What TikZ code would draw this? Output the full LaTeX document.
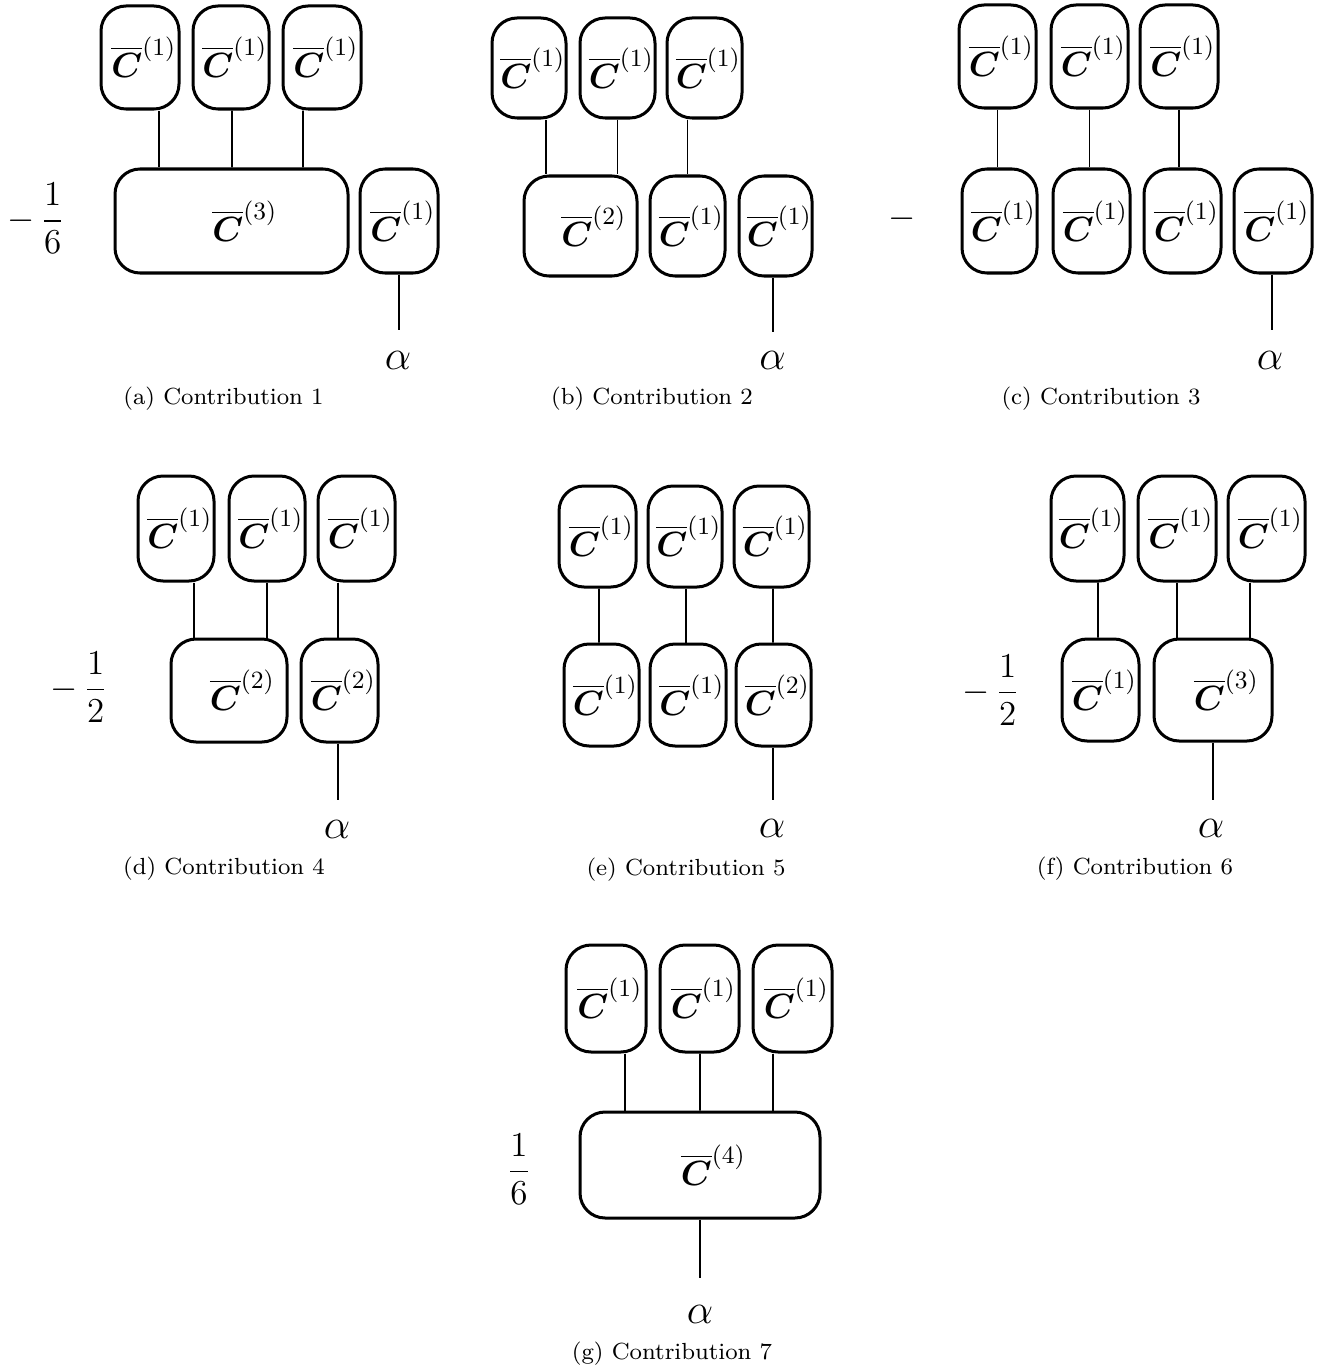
\documentclass[tikz,border=0pt]{standalone}
\usepackage{amsmath,bm}
\newlength\pu \setlength\pu{0.343pt}
\newcommand\Cb[1]{\hspace*{2.7pt}$\overline{\bm{C}}^{\text{\fontsize{8.5}{9}\selectfont(#1)}}$}
\newcommand\Cbw[1]{\hspace*{6.5pt}\Cb{#1}}
\tikzset{
  bx/.style n args={2}{draw, line width=1.03pt, rounded corners=8.6pt, inner sep=0pt,
    minimum width=#1*\pu, minimum height=#2*\pu, font=\fontsize{12}{14}\selectfont},
  ln/.style={line width=0.57pt},
  al/.style={anchor=base, font=\fontsize{14.4}{17}\selectfont, inner sep=0pt},
  captxt/.style={anchor=base, font=\fontsize{8}{10}\selectfont, inner sep=0pt},
  co/.style={font=\fontsize{12}{14}\selectfont, inner sep=0pt},
}
\begin{document}
\begin{tikzpicture}[x=0.343pt, y=-0.343pt]
\useasboundingbox (0,0) rectangle (1340,1372);

% ---------------- (a)
\node[bx={78}{103}] (a1) at (140,57.5) {\Cb1};
\node[bx={76}{103}] (a2) at (231,57.5) {\Cb1};
\node[bx={78}{103}] (a3) at (322,57.5) {\Cb1};
\node[bx={233}{104}] (aC) at (231.5,221) {\Cbw3};
\node[bx={78}{104}] (aR) at (399,221) {\Cb1};
\coordinate (aend) at (399,330);
\node[al] (aal) at (398,369) {$\alpha$};
\node[co, anchor=west] (afr) at (7,218.5) {$-\,\dfrac{1}{6}$};
\node[captxt] (acap) at (223.5,404) {(a) Contribution 1};
\draw[ln] ([xshift=19*\pu]a1.south) -- ([xshift=-72.5*\pu]aC.north);
\draw[ln] ([xshift=1*\pu]a2.south) -- ([xshift=0.5*\pu]aC.north);
\draw[ln] ([xshift=-19*\pu]a3.south) -- ([xshift=71.5*\pu]aC.north);
\draw[ln] (aR.south) -- (aend);

% ---------------- (b)
\node[bx={74}{100}] (b1) at (529,68) {\Cb1};
\node[bx={75}{100}] (b2) at (617.5,68) {\Cb1};
\node[bx={75}{100}] (b3) at (704.5,68) {\Cb1};
\node[bx={113}{100}] (bC) at (580.5,226) {\Cbw2};
\node[bx={75}{100}] (bB2) at (687.5,226) {\Cb1};
\node[bx={73}{100}] (bB3) at (775.5,226) {\Cb1};
\coordinate (bend) at (773,332);
\node[al] (bal) at (772.5,369) {$\alpha$};
\node[captxt] (bcap) at (652,404) {(b) Contribution 2};
\draw[ln] ([xshift=17*\pu]b1.south) -- ([xshift=-34.5*\pu]bC.north);
\draw[ln] (b2.south) -- ([xshift=37*\pu]bC.north);
\draw[ln] ([xshift=-17*\pu]b3.south) -- (bB2.north);
\draw[ln] ([xshift=-2.5*\pu]bB3.south) -- (bend);

% ---------------- (c)
\node[bx={77}{103}] (c1) at (997.5,56.5) {\Cb1};
\node[bx={77}{103}] (c2) at (1089.5,56.5) {\Cb1};
\node[bx={78}{103}] (c3) at (1179,56.5) {\Cb1};
\node[bx={75}{104}] (cB1) at (999.5,221) {\Cb1};
\node[bx={77}{104}] (cB2) at (1091.5,221) {\Cb1};
\node[bx={77}{104}] (cB3) at (1182.5,221) {\Cb1};
\node[bx={78}{104}] (cB4) at (1273,221) {\Cb1};
\coordinate (cend) at (1272,330);
\node[al] (cal) at (1270,369) {$\alpha$};
\node[co] (cmin) at (902,219) {$-$};
\node[captxt] (ccap) at (1101,404) {(c) Contribution 3};
\draw[ln] (c1.south) -- (c1.south |- cB1.north);
\draw[ln] (c2.south) -- (c2.south |- cB2.north);
\draw[ln] (c3.south) -- (c3.south |- cB3.north);
\draw[ln] ([xshift=-1*\pu]cB4.south) -- (cend);

% ---------------- (d)
\node[bx={76}{105}] (d1) at (176,528.5) {\Cb1};
\node[bx={76}{105}] (d2) at (267,528.5) {\Cb1};
\node[bx={77}{105}] (d3) at (356.5,528.5) {\Cb1};
\node[bx={116}{103}] (dC) at (229,690.5) {\Cbw2};
\node[bx={77}{103}] (dB) at (339.5,690.5) {\Cb2};
\coordinate (dend) at (338,800);
\node[al] (dal) at (337,838) {$\alpha$};
\node[co, anchor=west] (dfr) at (50,687) {$-\,\dfrac{1}{2}$};
\node[captxt] (dcap) at (224,874) {(d) Contribution 4};
\draw[ln] ([xshift=18*\pu]d1.south) -- ([xshift=-35*\pu]dC.north);
\draw[ln] (d2.south) -- ([xshift=38*\pu]dC.north);
\draw[ln] ([xshift=-18.5*\pu]d3.south) -- ([xshift=-1.5*\pu]dB.north);
\draw[ln] ([xshift=-1.5*\pu]dB.south) -- (dend);

% ---------------- (e)
\node[bx={77}{101}] (e1) at (597.5,536.5) {\Cb1};
\node[bx={74}{101}] (e2) at (685,536.5) {\Cb1};
\node[bx={75}{101}] (e3) at (771.5,536.5) {\Cb1};
\node[bx={75}{102}] (eB1) at (601.5,695) {\Cb1};
\node[bx={76}{102}] (eB2) at (688,695) {\Cb1};
\node[bx={75}{102}] (eB3) at (773.5,695) {\Cb2};
\coordinate (eend) at (773,800);
\node[al] (eal) at (772,837) {$\alpha$};
\node[captxt] (ecap) at (686,875) {(e) Contribution 5};
\draw[ln] ([xshift=1.5*\pu]e1.south) -- ([xshift=-2.5*\pu]eB1.north);
\draw[ln] ([xshift=1*\pu]e2.south) -- ([xshift=-2*\pu]eB2.north);
\draw[ln] ([xshift=1.5*\pu]e3.south) -- ([xshift=-0.5*\pu]eB3.north);
\draw[ln] ([xshift=-0.5*\pu]eB3.south) -- (eend);

% ---------------- (f)
\node[bx={73}{105}] (f1) at (1087.5,528.5) {\Cb1};
\node[bx={78}{105}] (f2) at (1177,528.5) {\Cb1};
\node[bx={77}{105}] (f3) at (1266.5,528.5) {\Cb1};
\node[bx={77}{102}] (fB1) at (1100.5,690) {\Cb1};
\node[bx={118}{102}] (fC) at (1213,690) {\Cbw3};
\coordinate (fend) at (1213,800);
\node[al] (fal) at (1211,837) {$\alpha$};
\node[co, anchor=west] (ffr) at (962,690) {$-\,\dfrac{1}{2}$};
\node[captxt] (fcap) at (1135,874) {(f) Contribution 6};
\draw[ln] ([xshift=10.5*\pu]f1.south) -- ([xshift=-2.5*\pu]fB1.north);
\draw[ln] (f2.south) -- ([xshift=-36*\pu]fC.north);
\draw[ln] ([xshift=-16.5*\pu]f3.south) -- ([xshift=37*\pu]fC.north);
\draw[ln] (fC.south) -- (fend);

% ---------------- (g)
\node[bx={80}{107}] (g1) at (606,998.5) {\Cb1};
\node[bx={79}{107}] (g2) at (699.5,998.5) {\Cb1};
\node[bx={79}{107}] (g3) at (792.5,998.5) {\Cb1};
\node[bx={240}{106}] (gC) at (700,1165) {\Cbw4};
\coordinate (gend) at (700,1278);
\node[al] (gal) at (700,1323) {$\alpha$};
\node[co] (gfr) at (519,1169) {$\dfrac{1}{6}$};
\node[captxt] (gcap) at (672,1359) {(g) Contribution 7};
\draw[ln] ([xshift=19*\pu]g1.south) -- ([xshift=-75*\pu]gC.north);
\draw[ln] ([xshift=0.5*\pu]g2.south) -- (gC.north);
\draw[ln] ([xshift=-19.5*\pu]g3.south) -- ([xshift=73*\pu]gC.north);
\draw[ln] (gC.south) -- (gend);
\end{tikzpicture}
\end{document}
